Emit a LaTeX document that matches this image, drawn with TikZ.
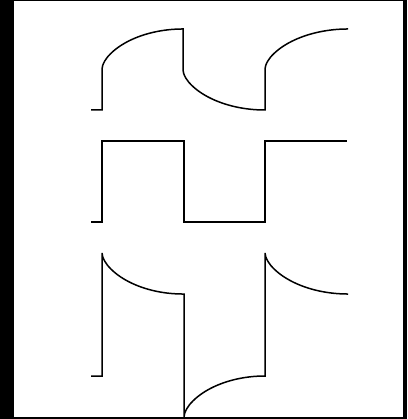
\documentclass[tikz,border=0pt]{standalone}
\begin{document}
\begin{tikzpicture}[x=1pt,y=-1pt,
  wave/.style={line width=1.5pt,line join=miter,black}]
\useasboundingbox (0,0) rectangle (407,419);
\fill[black] (0,0) rectangle (407,419);
\fill[white] (14,1) rectangle (403,417);
\begin{scope}
\clip (14,1) rectangle (403,417);
% panel 1: integrated waveform
\draw[wave] (91,110) -- (102,110) -- (102,69)
  -- plot[domain=102:183,samples=120] (\x,{69-40*(max(0,1-((\x-183)/81)^2))^0.6})
  -- (183,70)
  -- plot[domain=183:265,samples=120] (\x,{70+40*(max(0,1-((\x-265)/82)^2))^0.6})
  -- (265,110) -- (265,69)
  -- plot[domain=265:348,samples=120] (\x,{69-40*(max(0,1-((\x-348)/83)^2))^0.6});
% panel 2: square wave
\draw[wave] (91,222) -- (102,222) -- (102,141) -- (184,141) -- (184,222)
  -- (265,222) -- (265,141) -- (347,141);
% panel 3: differentiated waveform
\draw[wave] (91,376) -- (102,376) -- (102,253)
  -- plot[domain=102:183,samples=120] (\x,{253+41*(max(0,1-((\x-183)/81)^2))^0.6})
  -- (184,294) -- (184,417)
  -- plot[domain=184:265,samples=120] (\x,{417-41*(max(0,1-((\x-265)/81)^2))^0.6})
  -- (265,376) -- (265,253)
  -- plot[domain=265:348,samples=120] (\x,{253+41*(max(0,1-((\x-348)/83)^2))^0.6});
\end{scope}
\end{tikzpicture}
\end{document}
